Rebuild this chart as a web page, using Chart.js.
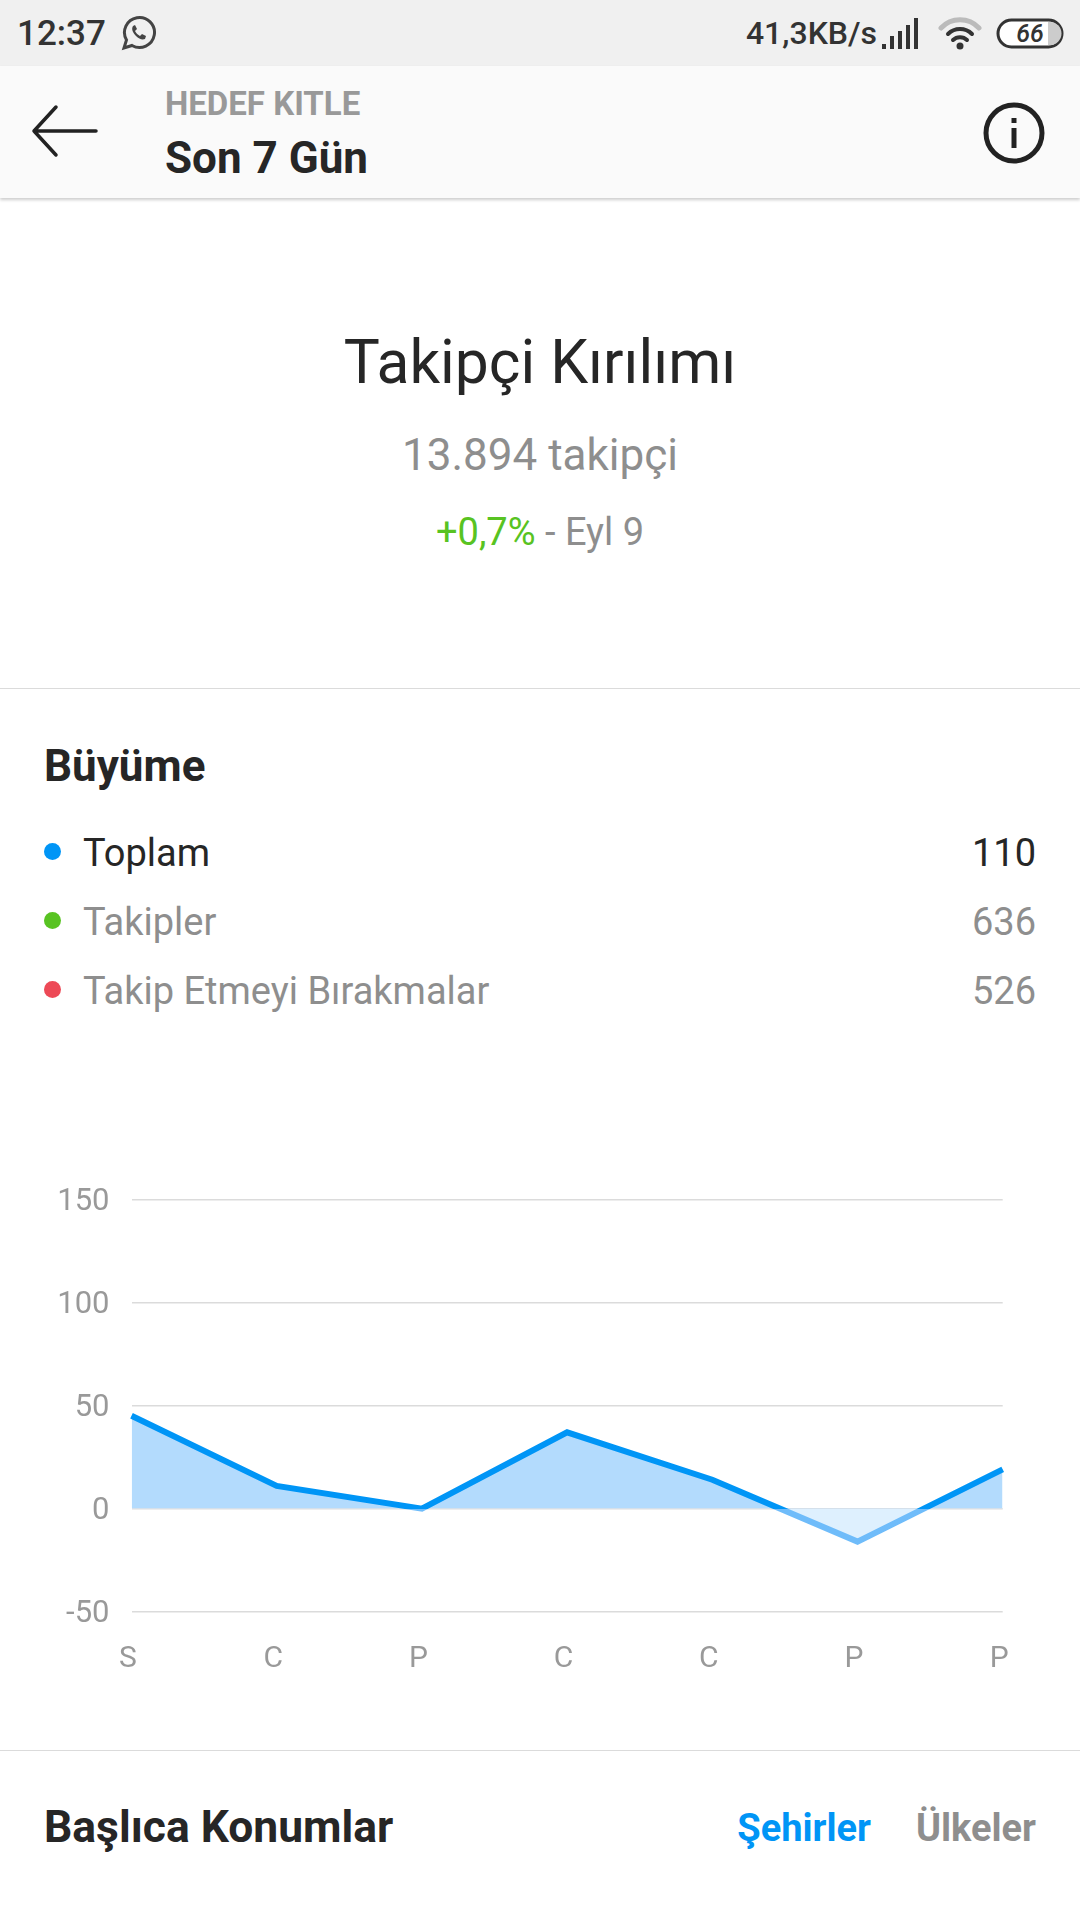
<!DOCTYPE html>
<html><head><meta charset="utf-8">
<script src="https://cdn.jsdelivr.net/npm/chart.js@4"></script>
<style>
html,body{margin:0;padding:0;background:#fff;width:1080px;height:1920px;overflow:hidden;font-family:Roboto,sans-serif}
.t{position:absolute;white-space:nowrap;line-height:1}
.c{transform:translateX(-50%)}
.r{transform:translateX(-100%)}
.abs{position:absolute}
</style></head><body>
<div class="abs" style="left:0;top:0;width:1080px;height:66px;background:#f0f0f0"></div>
<div class="abs" style="left:0;top:66px;width:1080px;height:132px;background:#fafafa;box-shadow:0 2px 3px rgba(0,0,0,.2)"></div>
<div class="t" style="left:17px;top:16px;font-size:35px;font-weight:500;color:#333">12:37</div>
<svg class="abs" style="left:121px;top:15px" width="36" height="36" viewBox="0 0 36 36" fill="none" stroke="#444" stroke-width="3"><path d="M3 33l2.5-8A15 15 0 1 1 11 30.5z"/><path d="M12 11c-2 3 0 7 3 10s6 4 9 3l1-3-4-2-2 2c-2-1-4-3-5-5l2-2-2-4z" fill="#444" stroke="none"/></svg>
<div class="t r" style="left:877px;top:17px;font-size:32px;font-weight:500;color:#333">41,3KB/s</div>
<svg class="abs" style="left:880px;top:16px" width="44" height="34" viewBox="0 0 44 34" fill="#333"><rect x="2" y="28" width="4" height="5"/><rect x="10" y="20" width="4" height="13"/><rect x="18" y="15" width="4" height="18"/><rect x="26" y="9" width="4" height="24"/><rect x="34" y="2" width="4" height="31"/></svg>
<svg class="abs" style="left:938px;top:16px" width="44" height="36" viewBox="0 0 44 36" fill="none" stroke-linecap="round"><path d="M3 12A26 26 0 0 1 41 12" stroke="#bbb" stroke-width="5"/><path d="M10 18A17 17 0 0 1 34 18" stroke="#333" stroke-width="4"/><path d="M15 24A10 10 0 0 1 29 24" stroke="#333" stroke-width="4"/><circle cx="22" cy="30" r="3.5" fill="#333"/></svg>
<svg class="abs" style="left:996px;top:18px" width="68" height="32" viewBox="0 0 68 32"><rect x="2" y="2" width="64" height="27" rx="13.5" fill="#fff" stroke="#333" stroke-width="3"/><path d="M52 4h2a11.500 11.500 0 0 1 0 23h-2z" fill="#ccc"/></svg>
<div class="t c" style="left:1030px;top:21px;font-size:25px;font-weight:500;color:#333;font-style:italic">66</div>
<svg class="abs" style="left:30px;top:103px" width="72" height="56" viewBox="0 0 72 56" fill="none" stroke="#222" stroke-width="3.500" stroke-linecap="round" stroke-linejoin="round"><path d="M66 28H4M26 4L4 28l22 24"/></svg>
<svg class="abs" style="left:980px;top:100px" width="70" height="70" viewBox="0 0 70 70"><circle cx="34" cy="33" r="28" fill="none" stroke="#222" stroke-width="5"/><rect x="31.500" y="28" width="5" height="20" fill="#222"/><rect x="31.500" y="18" width="5" height="5" fill="#222"/></svg>
<div class="t" style="left:165px;top:87px;font-size:33px;font-weight:700;color:#999">HEDEF KITLE</div>
<div class="t" style="left:165px;top:135.500px;font-size:44px;font-weight:700;color:#262626">Son 7 Gün</div>
<div class="t c" style="left:540px;top:333px;font-size:60.500px;color:#262626">Takipçi Kırılımı</div>
<div class="t c" style="left:540px;top:433px;font-size:44px;color:#8e8e8e">13.894 takipçi</div>
<div class="t c" style="left:540px;top:512.500px;font-size:38px;color:#8e8e8e"><span style="color:#58c322">+0,7%</span> - Eyl 9</div>
<div class="abs" style="left:0;top:688px;width:1080px;height:1px;background:#dbdbdb"></div>
<div class="t" style="left:44px;top:744px;font-size:44px;font-weight:700;color:#262626">Büyüme</div>
<div id="legend"></div>
<div class="abs" style="left:0;top:1150px;width:1080px;height:550px"><canvas id="c" width="1080" height="550" style="width:1080px;height:550px"></canvas></div>
<div class="abs" style="left:0;top:1750px;width:1080px;height:1px;background:#dbdbdb"></div>
<div class="t" style="left:44px;top:1805px;font-size:44.400px;font-weight:700;color:#262626">Başlıca Konumlar</div>
<div class="t r" style="left:871px;top:1808.500px;font-size:38px;font-weight:700;color:#0095f6">Şehirler</div>
<div class="t r" style="left:1036px;top:1808.500px;font-size:38px;font-weight:700;color:#8e8e8e">Ülkeler</div>
<script>
const categories = ["S","C","P","C","C","P","P"];
const totals = [45,11,0,37,14,-16,19];
const yTicks = [-50,0,50,100,150];
const legendLabels = ["Toplam","Takipler","Takip Etmeyi Bırakmalar"];
const legendValues = [110,636,526];
const legendColors = ["#0095f6","#58c322","#ed4956"];
const legendTextColors = ["#262626","#8e8e8e","#8e8e8e"];

const lg = document.getElementById('legend');
legendLabels.forEach((l,i)=>{
  const y = 852 + i*69;
  lg.insertAdjacentHTML('beforeend',
   `<div class="abs" style="left:44px;top:${y-9}px;width:17px;height:17px;border-radius:50%;background:${legendColors[i]}"></div>`+
   `<div class="t" style="left:83px;top:${y-18}px;font-size:38px;color:${legendTextColors[i]}">${l}</div>`+
   `<div class="t r" style="left:1036px;top:${y-18}px;font-size:38px;color:${legendTextColors[i]}">${legendValues[i]}</div>`);
});

function lineColor(ctx){
  const {chart} = ctx;
  if(!chart.chartArea) return '#0095f6';
  const a = chart.chartArea, y0 = chart.scales.y.getPixelForValue(0);
  const g = chart.ctx.createLinearGradient(0,a.top,0,a.bottom);
  const s = (y0-a.top)/(a.bottom-a.top);
  g.addColorStop(0,'#0095f6'); g.addColorStop(s,'#0095f6');
  g.addColorStop(s,'#6fbcfa'); g.addColorStop(1,'#6fbcfa');
  return g;
}
new Chart(document.getElementById('c'),{
  type:'line',
  data:{labels:categories,datasets:[{
    data:totals,borderColor:lineColor,borderWidth:6,pointRadius:0,tension:0,
    borderJoinStyle:'miter',
    fill:{target:'origin',above:'#b3dbfd',below:'#def0fe'}
  }]},
  options:{
    responsive:false,animation:false,devicePixelRatio:1,
    layout:{padding:{left:0,right:77.3,top:49.3,bottom:0}},
    plugins:{legend:{display:false},tooltip:{enabled:false}},
    scales:{
      x:{grid:{display:false},border:{display:false},
        afterFit(s){s.height=88.3;},
        ticks:{color:'#999',font:{family:'Roboto',size:30},padding:22,labelOffset:-3.5,maxRotation:0,autoSkip:false}},
      y:{min:-50,max:150,
        afterFit(s){s.width=131.5;},
        afterBuildTicks(s){s.ticks=yTicks.map(v=>({value:v}));},
        grid:{color:'#dbdbdb',lineWidth:1.5,drawTicks:false},border:{display:false},
        ticks:{color:'#999',font:{family:'Roboto',size:31},padding:22,labelOffset:3}}
    }
  }
});
</script>
</body></html>
